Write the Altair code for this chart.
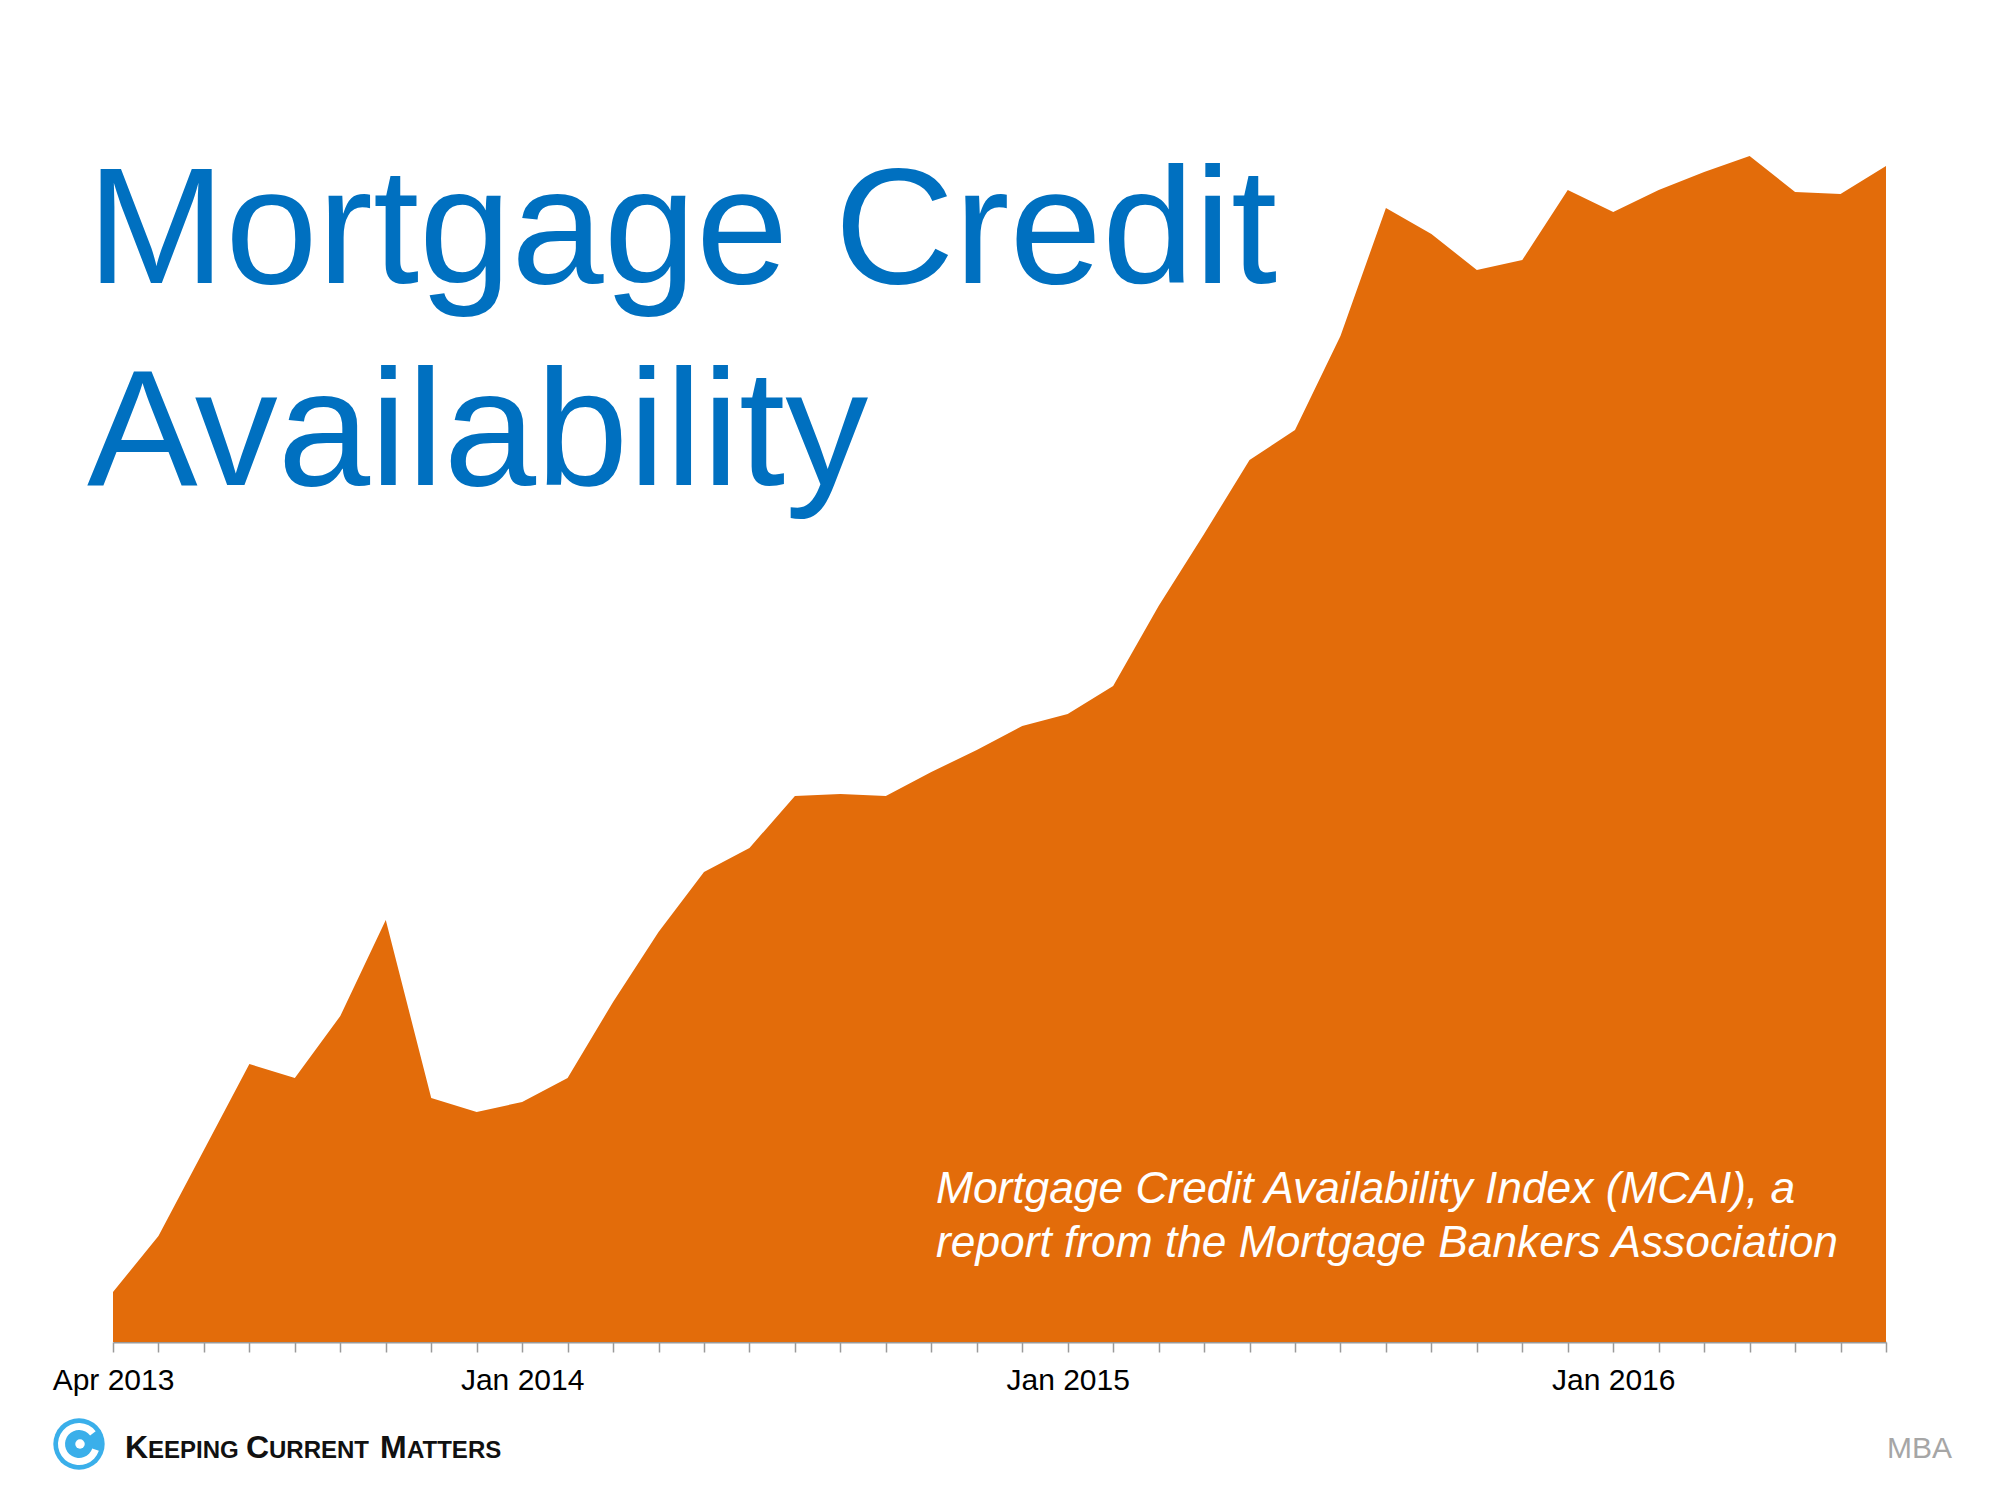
import altair as alt
import pandas as pd

# ---- data ----
months = list(pd.date_range("2013-04-01", "2016-07-01", freq="MS").strftime("%b %Y"))
mcai = [102.5, 105.3, 109.6, 113.9, 113.2, 116.3, 121.1, 112.2, 111.5, 112.0,
        113.2, 117.0, 120.5, 123.5, 124.7, 127.3, 127.4, 127.3, 128.5, 129.6,
        130.8, 131.4, 132.8, 136.8, 140.4, 144.1, 145.6, 150.3, 156.7, 155.4,
        153.6, 154.1, 157.6, 156.5, 157.6, 158.5, 159.3, 157.5, 157.4, 158.8]
labeled_months = ["Apr 2013", "Jan 2014", "Jan 2015", "Jan 2016"]
y_domain = [100, 160]

title_text = "Mortgage Credit\nAvailability"
note_text = "Mortgage Credit Availability Index (MCAI), a\nreport from the Mortgage Bankers Association"
source_text = "MBA"
logo_pieces = ["K", "EEPING", "C", "URRENT", "M", "ATTERS"]

df = pd.DataFrame({"month": months, "mcai": mcai})

ORANGE = "#E36C0A"
BLUE = "#0070C0"
FONT = "Liberation Sans"

label_test = " || ".join("datum.label == '" + m + "'" for m in labeled_months)

area = alt.Chart(df).mark_area(color=ORANGE, opacity=1, interpolate="linear").encode(
    x=alt.X(
        "month:O",
        sort=months,
        scale=alt.Scale(type="point", padding=0),
        axis=alt.Axis(
            title=None,
            labelExpr=f"({label_test}) ? datum.label : ''",
            labelAngle=0,
            labelFont=FONT,
            labelFontSize=30,
            labelColor="#000000",
            labelPadding=13,
            labelOverlap=False,
            labelFlush=False,
            tickSize=10,
            tickWidth=1.5,
            tickColor="#9A9A9A",
            domainColor="#9A9A9A",
            domainWidth=2,
            grid=False,
        ),
    ),
    y=alt.Y("mcai:Q", scale=alt.Scale(domain=y_domain, zero=False, nice=False), axis=None),
    y2=alt.datum(y_domain[0]),
)


def text_layer(txt, **kw):
    return alt.Chart(pd.DataFrame({"t": [txt]})).mark_text(**kw)


title = text_layer(
    title_text, align="left", baseline="alphabetic", font=FONT, fontSize=166,
    lineHeight=202, color=BLUE, lineBreak="\n",
).encode(text="t:N", x=alt.value(-26), y=alt.value(141))

note = text_layer(
    note_text, align="left", baseline="alphabetic", font=FONT, fontSize=44.3,
    fontStyle="italic", lineHeight=54, color="white", lineBreak="\n",
).encode(text="t:N", x=alt.value(823), y=alt.value(1061))

source = text_layer(
    source_text, align="right", baseline="alphabetic", font=FONT, fontSize=30,
    color="#A6A6A6",
).encode(text="t:N", x=alt.value(1839), y=alt.value(1316))

# logo: swirl icon approximated with a disc and arcs
one = pd.DataFrame({"t": ["o"]})
logo_disc = alt.Chart(one).mark_point(
    filled=True, shape="circle", size=2640, color="#3AAFEA", opacity=1
).encode(x=alt.value(-34), y=alt.value(1302))
logo_band = alt.Chart(one).mark_arc(
    theta=1.9, theta2=7.2, innerRadius=14, outerRadius=21, color="white"
).encode(x=alt.value(-34), y=alt.value(1302))
logo_center = alt.Chart(one).mark_point(
    filled=True, shape="circle", size=90, color="white", opacity=1
).encode(x=alt.value(-33), y=alt.value(1302))

logo_x = [12, 35, 133, 156, 267, 294]
logo_layers = []
for piece, px in zip(logo_pieces, logo_x):
    size = 32 if len(piece) == 1 else 24
    logo_layers.append(
        text_layer(piece, align="left", baseline="alphabetic", font=FONT,
                   fontSize=size, fontWeight="bold", color="#111111")
        .encode(text="t:N", x=alt.value(px), y=alt.value(1316))
    )

chart = alt.layer(area, title, note, source, logo_disc, logo_band, logo_center, *logo_layers).properties(
    width=1773,
    height=1200,
    autosize=alt.AutoSizeParams(type="none"),
    padding={"left": 113, "top": 142, "right": 114, "bottom": 158},
    background="white",
).configure_view(stroke=None)

chart.save("out.html", embed_options={"renderer": "svg", "actions": False})
